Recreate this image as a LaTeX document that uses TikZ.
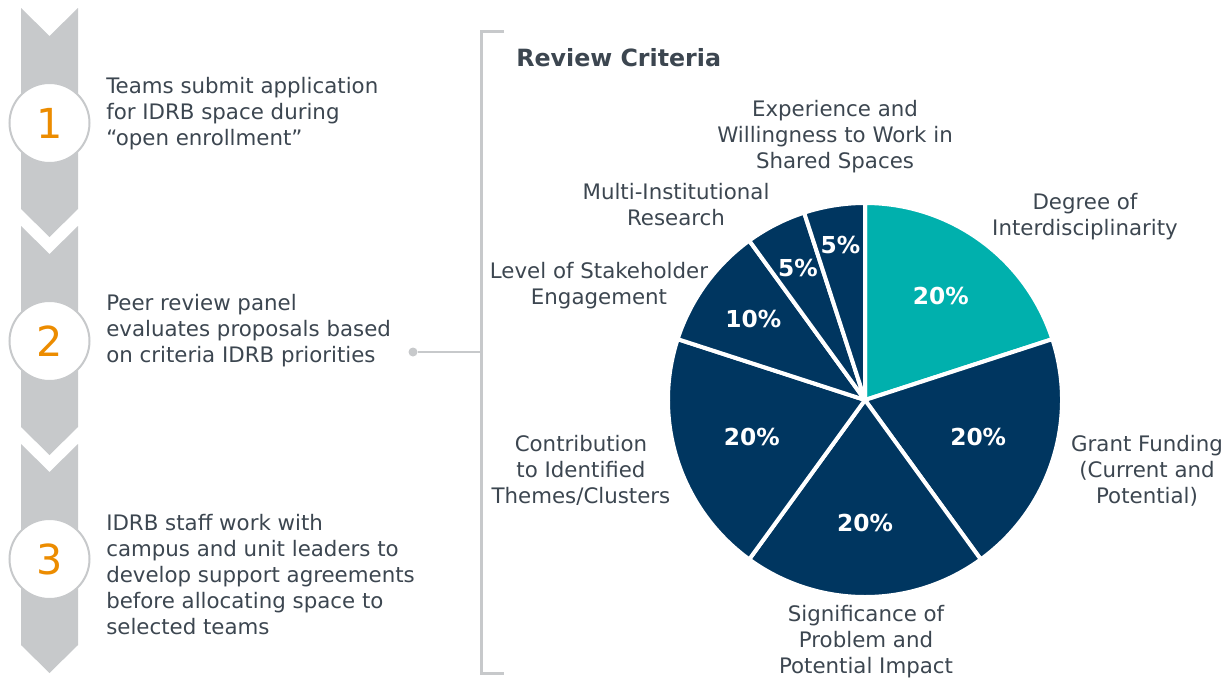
\documentclass[tikz,border=0pt]{standalone}
\usepackage{fontspec}
\setmainfont{DejaVu Sans}
\usetikzlibrary{positioning}

\definecolor{chevgray}{RGB}{199,201,203}
\definecolor{txtgray}{RGB}{60,70,80}
\definecolor{navy}{RGB}{0,54,96}
\definecolor{tealc}{RGB}{0,176,173}
\definecolor{numorange}{RGB}{236,140,0}

\begin{document}
\begin{tikzpicture}
    [x=0.75pt,y=-0.75pt,
     body/.style={font=\fontsize{16}{19.5}\selectfont,text=txtgray,inner sep=0pt,yshift=-2pt},
     crit/.style={body,align=center},
     numcirc/.style={circle,draw=chevgray,line width=1.5pt,fill=white,minimum size=60pt,
                     inner sep=0pt,text=numorange,font=\fontsize{31}{31}\selectfont},
     slice/.style={draw=white,line width=3pt,line join=round},
     pct/.style={text=white,font=\bfseries\fontsize{17.5}{17.5}\selectfont,inner sep=0pt}]

    \useasboundingbox (0,0) rectangle (1227,678);

    % chevron band with numbered steps
    \foreach \t/\n in {8/1,226/2,444/3}{
        \fill[chevgray] (21,\t) -- (49.5,\t+28) -- (78,\t) -- (78,\t+201)
                        -- (49.5,\t+229) -- (21,\t+201) -- cycle;
        \node[numcirc] (num\n) at (49.5,\t+115) {\n};
    }

    \node[body,align=left,anchor=west] (txt1) at (106,110.5)
        {Teams submit application\\for IDRB space during\\“open enrollment”};
    \node[body,align=left,anchor=west] (txt2) at (106,327.5)
        {Peer review panel\\evaluates proposals based\\on criteria IDRB priorities};
    \node[body,align=left,anchor=west] (txt3) at (106,572)
        {IDRB staff work with\\campus and unit leaders to\\develop support agreements\\before allocating space to\\selected teams};

    % bracket
    \draw[chevgray,line width=2.25pt] (504,31) -- (481,31) -- (481,673) -- (504,673);
    \node[circle,fill=chevgray,minimum size=6.75pt,inner sep=0pt] (dot) at (413,352) {};
    \coordinate (brk) at (481,352);
    \draw[chevgray,line width=1.5pt] (dot) -- (brk);

    \node[anchor=west,inner sep=0pt,text=txtgray,font=\bfseries\fontsize{17.8}{20}\selectfont]
        (title) at (516,58) {Review Criteria};

    % pie
    \begin{scope}[shift={(865,400)}]
        \foreach \a/\b/\col/\p/\d [count=\i] in
            {-90/-18/tealc/20/129, -18/54/navy/20/119, 54/126/navy/20/123,
             126/198/navy/20/119, 198/234/navy/10/138, 234/252/navy/5/148, 252/270/navy/5/157}{
            \draw[slice,fill=\col] (0,0) -- (\a:197) arc[start angle=\a,end angle=\b,radius=197] -- cycle;
            \node[pct] (p\i) at ({(\a+\b)/2}:\d) {\p\%};
        }
    \end{scope}

    \node[crit] (exper) at (835,134) {Experience and\\Willingness to Work in\\Shared Spaces};
    \node[crit] (degree) at (1085,214) {Degree of\\Interdisciplinarity};
    \node[crit] (multi) at (676,202) {Multi-Institutional\\Research};
    \node[crit] (level) at (599,283) {Level of Stakeholder\\Engagement};
    \node[crit] (contrib) at (581,468) {Contribution\\to Identified\\Themes/Clusters};
    \node[crit] (grant) at (1147,468) {Grant Funding\\(Current and\\Potential)};
    \node[crit] (signif) at (866,639) {Significance of\\Problem and\\Potential Impact};

\end{tikzpicture}
\end{document}
